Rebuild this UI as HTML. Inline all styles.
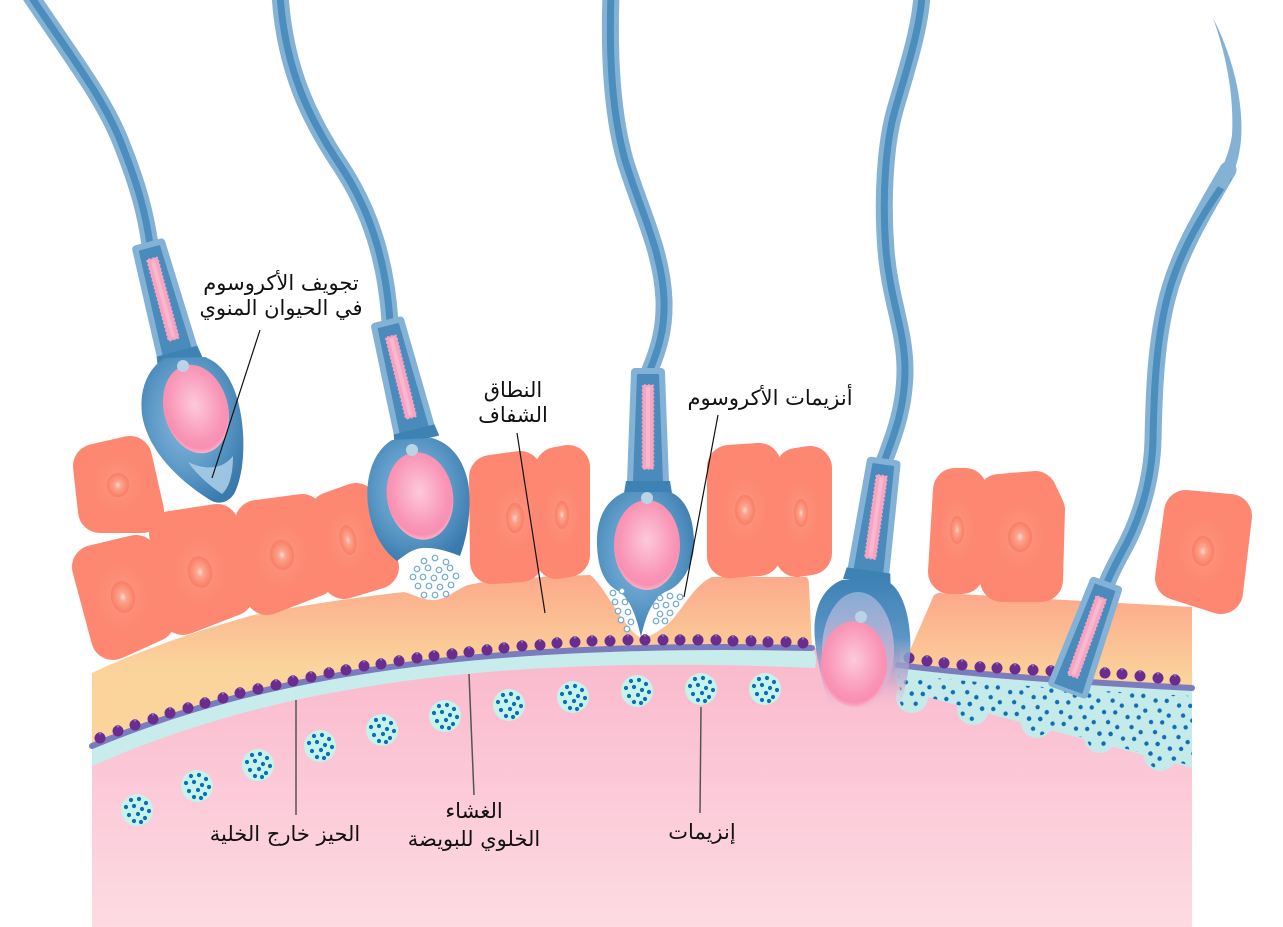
<!DOCTYPE html>
<html><head><meta charset="utf-8"><style>html,body{margin:0;padding:0;background:#fff}svg{display:block}</style></head>
<body>
<svg width="1283" height="927" viewBox="0 0 1283 927" xmlns="http://www.w3.org/2000/svg">
<defs>
<linearGradient id="egg" x1="0" y1="640" x2="0" y2="927" gradientUnits="userSpaceOnUse"><stop offset="0" stop-color="#fab7cc"/><stop offset="1" stop-color="#fddbe3"/></linearGradient>
<linearGradient id="zl" x1="0" y1="575" x2="0" y2="668" gradientUnits="userSpaceOnUse"><stop offset="0" stop-color="#fca98b"/><stop offset="1" stop-color="#fbd49b"/></linearGradient>
<linearGradient id="zr" x1="0" y1="595" x2="0" y2="682" gradientUnits="userSpaceOnUse"><stop offset="0" stop-color="#fca98b"/><stop offset="1" stop-color="#fbd49b"/></linearGradient>
<radialGradient id="nuc" cx="0.5" cy="0.5" r="0.5"><stop offset="0" stop-color="#fedcd2"/><stop offset="0.3" stop-color="#fca38e"/><stop offset="0.75" stop-color="#fa8a72"/><stop offset="1" stop-color="#f77d66"/></radialGradient>
<radialGradient id="halo" cx="0.5" cy="0.5" r="0.5"><stop offset="0" stop-color="#fd9e89" stop-opacity="0.9"/><stop offset="1" stop-color="#fd8771" stop-opacity="0"/></radialGradient>
<radialGradient id="hd" cx="0.45" cy="0.42" r="0.62"><stop offset="0" stop-color="#8bbcdd"/><stop offset="0.55" stop-color="#5f9cc9"/><stop offset="1" stop-color="#3a7bae"/></radialGradient>
<radialGradient id="nucS" cx="0.5" cy="0.45" r="0.55"><stop offset="0" stop-color="#fdc9da"/><stop offset="0.75" stop-color="#f995b6"/><stop offset="0.9" stop-color="#f98fb2"/><stop offset="1" stop-color="#fbb2c9"/></radialGradient>
<linearGradient id="h4" x1="0" y1="0" x2="0" y2="1"><stop offset="0" stop-color="#3f82b6"/><stop offset="0.45" stop-color="#5b95c5"/><stop offset="0.8" stop-color="#c9a8cc" stop-opacity="0.7"/><stop offset="1" stop-color="#f7b6cc" stop-opacity="0"/></linearGradient>
<linearGradient id="h4i" x1="0" y1="0" x2="0" y2="1"><stop offset="0" stop-color="#86acd4"/><stop offset="0.6" stop-color="#c7b0d4"/><stop offset="1" stop-color="#f5b3cb" stop-opacity="0.3"/></linearGradient>
<pattern id="dp" width="24" height="22" patternUnits="userSpaceOnUse" patternTransform="rotate(12)">
<circle cx="4" cy="5" r="2.2" fill="#0e6db5"/><circle cx="15" cy="3" r="2.2" fill="#0e6db5"/><circle cx="10" cy="14" r="2.2" fill="#0e6db5"/><circle cx="20" cy="17" r="2.2" fill="#0e6db5"/>
</pattern>
<g id="ves"><circle r="16" fill="#c6f3ec"/><g fill="#0e6db5"><circle cx="-6" cy="-10" r="2.1"/><circle cx="2" cy="-11" r="2.1"/><circle cx="9" cy="-7" r="2.1"/><circle cx="-11" cy="-3" r="2.1"/><circle cx="-3" cy="-4" r="2.1"/><circle cx="5" cy="-1" r="2.1"/><circle cx="12" cy="1" r="2.1"/><circle cx="-8" cy="5" r="2.1"/><circle cx="1" cy="4" r="2.1"/><circle cx="8" cy="8" r="2.1"/><circle cx="-3" cy="11" r="2.1"/><circle cx="4" cy="12" r="2.1"/></g></g>
<g id="mid">
<path d="M-13,-55 L13,-55 L17,55 L-17,55 Z" fill="#83b2d6" stroke="#83b2d6" stroke-width="8" stroke-linejoin="round"/>
<path d="M-10,-52 L10,-52 L14,54 L-14,54 Z" fill="#4a8bbc" stroke="#4a8bbc" stroke-width="2" stroke-linejoin="round"/>
<rect x="-5.5" y="-42" width="11" height="84" rx="1.5" fill="#f7a4c3" stroke="#f7a4c3" stroke-width="1.5" stroke-dasharray="2 2"/>
<rect x="-2" y="-40" width="4" height="80" fill="#fab8cf"/>
</g>
<g id="rd"><circle r="5.5" fill="#6a2c8f"/><path d="M-2,-6 L0,-2.5 L2,-6Z" fill="#8e6db5"/></g>
</defs>

<rect width="1283" height="927" fill="#fff"/>

<!-- tails -->
<g fill="none" stroke-linecap="round">
<g stroke="#84b2d5" stroke-width="17">
<path d="M30,-5 C70,55 105,100 122,145 C138,185 146,215 150,245"/>
<path d="M280,-5 C285,70 310,120 340,165 C370,210 386,260 390,322"/>
<path d="M611,-5 C609,50 611,110 625,160 C640,210 662,250 664,300 C665,330 658,350 650,370"/>
<path d="M922,-5 C920,30 905,75 895,110 C885,145 882,200 886,250 C890,300 905,330 905,370 C905,410 892,440 884,462"/>
<path d="M1228,170 C1205,210 1180,250 1168,295 C1156,340 1154,390 1153,440 C1152,480 1140,520 1122,552 C1115,565 1110,575 1106,585"/>
</g>
<g stroke="#4b8dbd" stroke-width="7">
<path d="M30,-5 C70,55 105,100 122,145 C138,185 146,215 150,245"/>
<path d="M280,-5 C285,70 310,120 340,165 C370,210 386,260 390,322"/>
<path d="M611,-5 C609,50 611,110 625,160 C640,210 662,250 664,300 C665,330 658,350 650,370"/>
<path d="M922,-5 C920,30 905,75 895,110 C885,145 882,200 886,250 C890,300 905,330 905,370 C905,410 892,440 884,462"/>
<path d="M1228,178 C1205,210 1180,250 1168,295 C1156,340 1154,390 1153,440 C1152,480 1140,520 1122,552 C1115,565 1110,575 1106,585"/>
</g>
</g>
<path d="M1213,18 C1232,55 1244,100 1241,140 C1239,160 1234,175 1225,190 L1214,184 C1223,168 1230,150 1232,135 C1234,100 1228,60 1213,18 Z" fill="#84b2d5"/>

<!-- egg -->
<path d="M92,756 C250,688 450,648 812,656 L815,648 L900,648 L900,678 L1192,745 L1192,927 L92,927 Z" fill="url(#egg)"/>

<!-- zona -->
<path d="M92,673 C140,650 200,630 250,616 C300,605 360,597 404,592 C415,595 425,601 435,600 C447,599 455,590 468,585 C500,578 560,576 590,575 C600,582 612,605 625,622 C632,632 638,637 642,638 C652,636 662,630 672,620 C685,605 695,585 712,577 L806,577 Q809,578 809,585 L812,648 C450,640 250,680 92,746 Z" fill="url(#zl)"/>
<path d="M904,664 L933,597 Q935,593 940,593 L1192,607 L1192,688 Q1000,678 898,665 Z" fill="url(#zr)"/>

<!-- cyan bands -->
<path d="M92,746 C250,680 450,640 812,648 Q818,656 815,668 C450,652 250,697 92,766 Z" fill="#c8ecec"/>
<g>
<path d="M896,668 Q1000,681 1192,691 L1192,768 L900,690 Q893,680 896,668 Z" fill="#c4ebea"/>
<circle cx="912" cy="697" r="16" fill="#c4ebea"/>
<circle cx="973" cy="709" r="16" fill="#c4ebea"/>
<circle cx="1037" cy="722" r="16" fill="#c4ebea"/>
<circle cx="1100" cy="737" r="16" fill="#c4ebea"/>
<circle cx="1160" cy="755" r="16" fill="#c4ebea"/>
</g>
<g fill="url(#dp)">
<path d="M898,674 Q1000,686 1192,696 L1192,766 L900,690 Z"/>
<circle cx="912" cy="698" r="13"/>
<circle cx="973" cy="710" r="13"/>
<circle cx="1037" cy="723" r="13"/>
<circle cx="1100" cy="738" r="13"/>
<circle cx="1160" cy="756" r="13"/>
</g>

<!-- membrane bands -->
<path d="M92,746 C250,680 450,640 812,648" fill="none" stroke="#7b7cbd" stroke-width="6" stroke-linecap="round"/>
<path d="M898,665 Q1000,678 1192,688" fill="none" stroke="#7b7cbd" stroke-width="6" stroke-linecap="round"/>

<!-- receptor dots -->
<g>
<use href="#rd" x="100" y="738"/><use href="#rd" x="118" y="731"/><use href="#rd" x="135" y="725"/><use href="#rd" x="153" y="719"/><use href="#rd" x="170" y="713"/><use href="#rd" x="188" y="708"/><use href="#rd" x="205" y="703"/><use href="#rd" x="223" y="698"/><use href="#rd" x="240" y="693"/><use href="#rd" x="258" y="689"/><use href="#rd" x="276" y="685"/><use href="#rd" x="293" y="681"/><use href="#rd" x="311" y="677"/><use href="#rd" x="329" y="673"/><use href="#rd" x="346" y="670"/><use href="#rd" x="364" y="666"/><use href="#rd" x="381" y="664"/><use href="#rd" x="399" y="661"/><use href="#rd" x="417" y="658"/><use href="#rd" x="434" y="656"/><use href="#rd" x="452" y="654"/><use href="#rd" x="469" y="652"/><use href="#rd" x="487" y="650"/><use href="#rd" x="504" y="648"/><use href="#rd" x="522" y="646"/><use href="#rd" x="540" y="645"/><use href="#rd" x="557" y="643"/><use href="#rd" x="575" y="642"/><use href="#rd" x="592" y="641"/><use href="#rd" x="610" y="641"/><use href="#rd" x="628" y="640"/><use href="#rd" x="645" y="640"/><use href="#rd" x="663" y="640"/><use href="#rd" x="680" y="640"/><use href="#rd" x="698" y="640"/><use href="#rd" x="716" y="640"/><use href="#rd" x="733" y="641"/><use href="#rd" x="751" y="641"/><use href="#rd" x="768" y="642"/><use href="#rd" x="786" y="642"/><use href="#rd" x="803" y="643"/>
<use href="#rd" x="909" y="658"/><use href="#rd" x="927" y="661"/><use href="#rd" x="944" y="663"/><use href="#rd" x="962" y="665"/><use href="#rd" x="980" y="667"/><use href="#rd" x="997" y="668"/><use href="#rd" x="1015" y="669"/><use href="#rd" x="1033" y="670"/><use href="#rd" x="1051" y="671"/><use href="#rd" x="1069" y="672"/><use href="#rd" x="1087" y="673"/><use href="#rd" x="1105" y="673"/><use href="#rd" x="1122" y="674"/><use href="#rd" x="1140" y="676"/><use href="#rd" x="1158" y="678"/><use href="#rd" x="1175" y="680"/>
</g>

<!-- vesicles -->
<use href="#ves" x="137" y="810"/><use href="#ves" x="197" y="786"/><use href="#ves" x="258" y="765"/><use href="#ves" x="320" y="746"/><use href="#ves" x="382" y="730"/><use href="#ves" x="445" y="716"/><use href="#ves" x="509" y="705"/><use href="#ves" x="573" y="697"/><use href="#ves" x="637" y="691"/><use href="#ves" x="701" y="689"/><use href="#ves" x="765" y="689"/>

<!-- cells -->
<g fill="#fd8771" stroke="#fd8771" stroke-width="44" stroke-linejoin="round">
<polygon points="95,466 130,458 142,511 100,511"/>
<polygon points="94,567 136,557 153,620 113,638"/>
<polygon points="171,533 217,526 232,594 183,613"/>
<polygon points="257,522 302,516 314,575 267,593"/>
<polygon points="331,514 356,505 377,567 344,577"/>
<polygon points="491,477 520,473 521,560 492,562"/>
<polygon points="557,469 568,467 568,555 557,557"/>
<polygon points="729,467 759,465 759,554 729,556"/>
<polygon points="797,470 810,468 810,553 797,555"/>
<polygon points="955,490 965,490 962,572 950,572"/>
<polygon points="999,496 1035,493 1043,510 1041,580 1002,580"/>
<polygon points="1186,512 1230,516 1221,592 1177,578"/>
</g>
<g fill="url(#halo)">
<ellipse cx="118" cy="484" rx="32" ry="36"/><ellipse cx="122" cy="597" rx="34" ry="44"/><ellipse cx="200" cy="571" rx="34" ry="44"/><ellipse cx="282" cy="556" rx="34" ry="42"/><ellipse cx="348" cy="540" rx="26" ry="40"/><ellipse cx="515" cy="518" rx="28" ry="42"/><ellipse cx="562" cy="515" rx="22" ry="40"/><ellipse cx="745" cy="510" rx="28" ry="42"/><ellipse cx="801" cy="513" rx="22" ry="40"/><ellipse cx="957" cy="530" rx="22" ry="40"/><ellipse cx="1020" cy="537" rx="32" ry="42"/><ellipse cx="1203" cy="551" rx="32" ry="42"/>
</g>
<g fill="url(#nuc)">
<ellipse cx="118" cy="485" rx="11" ry="12"/><ellipse cx="123" cy="597" rx="12" ry="16" transform="rotate(-12 123 597)"/><ellipse cx="200" cy="572" rx="12" ry="16" transform="rotate(-12 200 572)"/><ellipse cx="282" cy="555" rx="12" ry="15" transform="rotate(-8 282 555)"/><ellipse cx="348" cy="540" rx="8" ry="15" transform="rotate(-12 348 540)"/><ellipse cx="515" cy="518" rx="9" ry="15"/><ellipse cx="562" cy="515" rx="7" ry="14"/><ellipse cx="745" cy="510" rx="10" ry="15"/><ellipse cx="801" cy="513" rx="7" ry="14"/><ellipse cx="957" cy="530" rx="7" ry="14"/><ellipse cx="1020" cy="537" rx="12" ry="15"/><ellipse cx="1203" cy="551" rx="11" ry="15"/>
</g>

<!-- sperm 1 -->
<g transform="translate(163,299) rotate(-15)"><use href="#mid"/><path d="M-21,54 L21,54 L23,66 L-23,66 Z" fill="#3e82b4"/></g>
<path d="M165,358 C145,370 138,395 143,420 C150,450 175,478 210,500 C218,505 228,503 234,494 C244,475 246,440 240,410 C235,385 225,365 205,357 Z" fill="url(#hd)"/>
<ellipse cx="196" cy="409" rx="32" ry="45" transform="rotate(-15 196 409)" fill="url(#nucS)"/>
<path d="M188,462 C205,470 222,470 233,456 C233,475 229,488 222,494 C210,486 198,476 188,462 Z" fill="#a6cbe5" opacity="0.9"/>
<circle cx="183" cy="366" r="6" fill="#b8d4e6"/>

<!-- sperm 2 -->
<g transform="translate(401,377) rotate(-14)"><use href="#mid"/><path d="M-21,54 L21,54 L23,66 L-23,66 Z" fill="#3e82b4"/></g>
<path d="M392,440 C372,452 365,480 368,505 C371,530 382,550 397,561 C405,555 412,549 422,548 C436,547 450,552 460,556 C468,535 472,505 468,482 C463,458 450,443 432,438 Z" fill="url(#hd)"/>
<ellipse cx="420" cy="496" rx="33" ry="44" transform="rotate(-10 420 496)" fill="url(#nucS)"/>
<circle cx="412" cy="450" r="6" fill="#b8d4e6"/>

<!-- sperm 3 -->
<g transform="translate(648,427)"><use href="#mid"/><path d="M-22,54 L22,54 L24,66 L-24,66 Z" fill="#3e82b4"/></g>
<path d="M625,492 C605,500 596,520 597,545 C598,570 605,585 620,592 C630,600 636,615 641,637 C646,615 652,600 665,592 C685,585 695,560 694,540 C693,515 685,498 670,492 Z" fill="url(#hd)"/>
<ellipse cx="647" cy="545" rx="33" ry="45" fill="url(#nucS)"/>
<circle cx="647" cy="498" r="6" fill="#b8d4e6"/>

<!-- sperm 4 -->
<g transform="translate(876,517) rotate(8)"><use href="#mid"/><path d="M-22,54 L22,54 L24,66 L-24,66 Z" fill="#3e82b4"/></g>
<path d="M842,580 C822,588 812,610 815,640 C817,665 825,690 830,708 L900,708 C906,685 912,660 910,635 C908,605 898,585 885,580 Z" fill="url(#h4)"/>
<ellipse cx="858" cy="650" rx="36" ry="58" fill="url(#h4i)"/>
<ellipse cx="854" cy="664" rx="33" ry="43" fill="url(#nucS)"/>
<circle cx="861" cy="617" r="6" fill="#b8d4e6"/>

<!-- sperm 5 -->
<g transform="translate(1087,637) rotate(20)"><use href="#mid"/></g>

<!-- enzyme rings -->
<g fill="#fff" stroke="#6fa7d6" stroke-width="1.2">
<circle cx="424" cy="561" r="2.8"/><circle cx="435" cy="558" r="2.8"/><circle cx="446" cy="562" r="2.8"/><circle cx="417" cy="569" r="2.8"/><circle cx="428" cy="568" r="2.8"/><circle cx="439" cy="570" r="2.8"/><circle cx="450" cy="568" r="2.8"/><circle cx="413" cy="577" r="2.8"/><circle cx="423" cy="577" r="2.8"/><circle cx="434" cy="578" r="2.8"/><circle cx="445" cy="577" r="2.8"/><circle cx="456" cy="576" r="2.8"/><circle cx="418" cy="586" r="2.8"/><circle cx="429" cy="586" r="2.8"/><circle cx="440" cy="587" r="2.8"/><circle cx="451" cy="585" r="2.8"/><circle cx="424" cy="595" r="2.8"/><circle cx="435" cy="595" r="2.8"/><circle cx="446" cy="594" r="2.8"/>
<circle cx="613" cy="593" r="2.8"/><circle cx="622" cy="591" r="2.8"/><circle cx="615" cy="602" r="2.8"/><circle cx="625" cy="602" r="2.8"/><circle cx="618" cy="611" r="2.8"/><circle cx="628" cy="612" r="2.8"/><circle cx="621" cy="620" r="2.8"/><circle cx="631" cy="622" r="2.8"/><circle cx="627" cy="629" r="2.8"/>
<circle cx="660" cy="598" r="2.8"/><circle cx="670" cy="596" r="2.8"/><circle cx="680" cy="597" r="2.8"/><circle cx="656" cy="606" r="2.8"/><circle cx="666" cy="605" r="2.8"/><circle cx="676" cy="604" r="2.8"/><circle cx="660" cy="614" r="2.8"/><circle cx="670" cy="613" r="2.8"/><circle cx="656" cy="621" r="2.8"/><circle cx="665" cy="621" r="2.8"/>
</g>

<!-- leader lines -->
<g stroke="#111" stroke-width="1.2" fill="none">
<line x1="260" y1="330" x2="212" y2="478"/>
<line x1="517" y1="433" x2="545" y2="613"/>
<line x1="718" y1="415" x2="684" y2="597"/>
</g>
<g stroke="#555" stroke-width="1.5" fill="none">
<line x1="296" y1="700" x2="296" y2="815"/>
<line x1="469" y1="674" x2="474" y2="795"/>
<line x1="701" y1="707" x2="700" y2="813"/>
</g>

<!-- labels -->
<g font-family="'DejaVu Sans', sans-serif" font-size="21" fill="#111" text-anchor="middle">
<text x="281" y="290">تجويف الأكروسوم</text>
<text x="281" y="315">في الحيوان المنوي</text>
<text x="513" y="397">النطاق</text>
<text x="513" y="422">الشفاف</text>
<text x="770" y="405">أنزيمات الأكروسوم</text>
<text x="285" y="841">الحيز خارج الخلية</text>
<text x="474" y="818">الغشاء</text>
<text x="474" y="846">الخلوي للبويضة</text>
<text x="702" y="839">إنزيمات</text>
</g>
</svg>
</body></html>
